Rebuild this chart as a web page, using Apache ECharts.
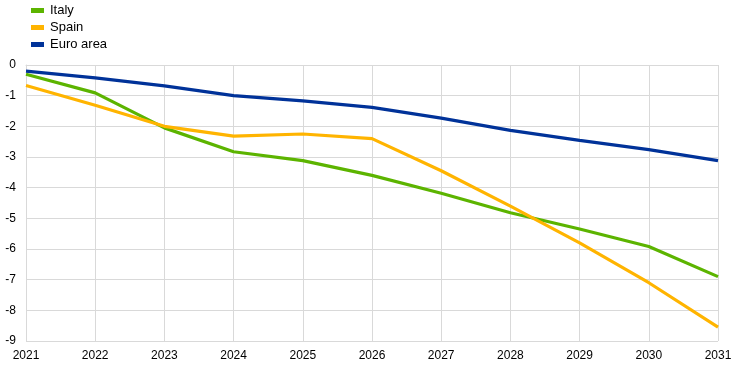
<!DOCTYPE html>
<html><head><meta charset="utf-8">
<script src="https://cdn.jsdelivr.net/npm/echarts@6/dist/echarts.min.js"></script>
<style>html,body{margin:0;padding:0;background:#fff}#c{width:745px;height:373px}</style>
</head><body><div id="c"></div>
<script>
const years = ['2021','2022','2023','2024','2025','2026','2027','2028','2029','2030','2031'];
const italy = [-0.3,-0.91,-2.05,-2.83,-3.12,-3.6,-4.18,-4.82,-5.35,-5.92,-6.9];
const spain = [-0.67,-1.31,-2.0,-2.32,-2.25,-2.4,-3.45,-4.6,-5.8,-7.1,-8.55];
const euro = [-0.2,-0.42,-0.68,-1.0,-1.17,-1.38,-1.73,-2.13,-2.46,-2.76,-3.12];
const chart = echarts.init(document.getElementById('c'));
const font = 'Liberation Sans, Arial, sans-serif';
const mk = (name, data, color) => ({name, type:'line', data, symbol:'none', lineStyle:{color, width:3.2}, itemStyle:{color}, z: name==='Euro area'?3:2});
chart.setOption({
  animation:false,
  legend:{orient:'vertical', left:26, top:-1, itemWidth:13, itemHeight:5, itemGap:4, icon:'rect',
    textStyle:{fontFamily:font, fontSize:13, color:'#000', padding:[0,0,0,1]},
    data:['Italy','Spain','Euro area']},
  grid:{left:26, right:27, top:65, bottom:32, containLabel:false},
  xAxis:{type:'category', data:years, boundaryGap:false,
    axisLine:{lineStyle:{color:'#d9d9d9'}}, axisTick:{show:false},
    axisLabel:{fontFamily:font, fontSize:12, color:'#000', margin:9},
    splitLine:{show:true, lineStyle:{color:'#d9d9d9', width:1}}},
  yAxis:{type:'value', min:-9, max:0, interval:1,
    axisLine:{show:true, lineStyle:{color:'#d9d9d9'}}, axisTick:{show:false},
    axisLabel:{fontFamily:font, fontSize:12, color:'#000', margin:10},
    splitLine:{lineStyle:{color:'#d9d9d9', width:1}}},
  series:[mk('Italy', italy, '#5cb400'), mk('Spain', spain, '#ffb400'), mk('Euro area', euro, '#003299')]
});
</script></body></html>
